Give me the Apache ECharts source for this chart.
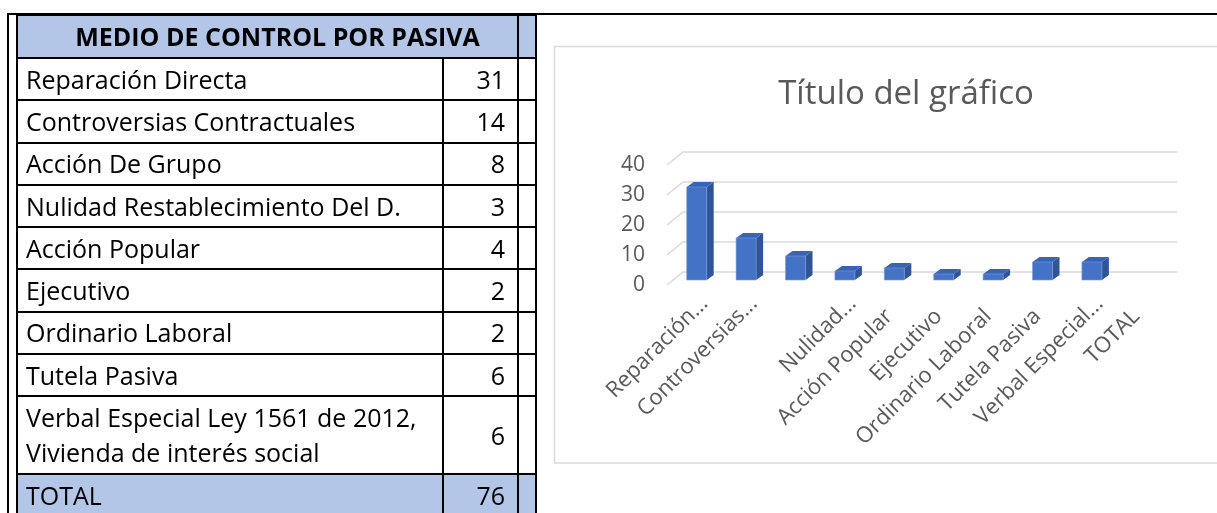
<!DOCTYPE html>
<html>
<head>
<meta charset="utf-8">
<script src="https://cdn.jsdelivr.net/npm/echarts@6/dist/echarts.min.js"></script>
<style>
  body {
    margin: 0;
    width: 1217px;
    height: 513px;
    overflow: hidden;
    background: #fff;
    position: relative;
    font-family: "Open Sans", "Noto Sans", sans-serif;
  }
  #chart {
    position: absolute;
    left: 0;
    top: 0;
    width: 1217px;
    height: 513px;
  }
  .top-line {
    position: absolute;
    left: 7px;
    top: 13px;
    width: 1210px;
    height: 2px;
    background: #000;
  }
  .left-line {
    position: absolute;
    left: 7px;
    top: 13px;
    width: 2px;
    height: 500px;
    background: #000;
  }
  #table {
    position: absolute;
    left: 16px;
    top: 14px;
    border-collapse: collapse;
    table-layout: fixed;
  }
  #table td {
    border: 2.5px solid #000;
    padding: 0 8px;
    font-size: 25px;
    line-height: 35px;
    color: #000;
    white-space: nowrap;
  }
  #table td.num {
    text-align: right;
    padding-right: 12px;
  }
  #table tr.head td,
  #table tr.total td {
    background: #b4c6e7;
  }
  #table tr.head td.title {
    text-align: center;
    font-weight: bold;
    padding-left: 20px;
    padding-right: 0;
  }
</style>
</head>
<body>
<div id="chart"></div>
<div class="top-line"></div>
<div class="left-line"></div>
<table id="table"></table>
<script>
const categories = [
  'Reparación Directa',
  'Controversias Contractuales',
  'Acción De Grupo',
  'Nulidad Restablecimiento Del D.',
  'Acción Popular',
  'Ejecutivo',
  'Ordinario Laboral',
  'Tutela Pasiva',
  'Verbal Especial Ley 1561 de 2012, Vivienda de interés social',
];
const values = [31, 14, 8, 3, 4, 2, 2, 6, 6];
const totalLabel = 'TOTAL';
const totalValue = 76;
const tableTitle = 'MEDIO DE CONTROL POR PASIVA';

// etiquetas del eje tal como aparecen (recortadas por Excel)
const axisLabels = [
  'Reparación...',
  'Controversias...',
  '',
  'Nulidad...',
  'Acción Popular',
  'Ejecutivo',
  'Ordinario Laboral',
  'Tutela Pasiva',
  'Verbal Especial...',
  'TOTAL',
];
const yTicks = [0, 10, 20, 30, 40];

// ---- tabla ----
const rowHeights = [43, 42.3, 42.3, 42.3, 42.3, 42.3, 42.3, 42.3, 42.3, 77.5, 43];
const table = document.getElementById('table');
const colgroup = document.createElement('colgroup');
[426, 75, 18].forEach((w) => {
  const col = document.createElement('col');
  col.style.width = w + 'px';
  colgroup.appendChild(col);
});
table.appendChild(colgroup);

const addRow = (cls, cells, h) => {
  const tr = document.createElement('tr');
  if (cls) tr.className = cls;
  tr.style.height = h + 'px';
  cells.forEach((c) => {
    const td = document.createElement('td');
    if (c.cls) td.className = c.cls;
    if (c.span) td.colSpan = c.span;
    td.innerHTML = c.html;
    tr.appendChild(td);
  });
  table.appendChild(tr);
};

addRow('head', [{ html: tableTitle, cls: 'title', span: 2 }, { html: '' }], rowHeights[0]);
categories.forEach((name, i) => {
  addRow('', [
    { html: name.replace(', ', ',<br>') },
    { html: String(values[i]), cls: 'num' },
    { html: '' },
  ], rowHeights[i + 1]);
});
addRow('total', [
  { html: totalLabel },
  { html: String(totalValue), cls: 'num' },
  { html: '' },
], rowHeights[rowHeights.length - 1]);

// ---- gráfico 3D simulado ----
const depth = [16, -13];
const barWidth = 20;
const barOffset = [5, -5];
const barDepth = [7, -5];

const chart = echarts.init(document.getElementById('chart'));

// Excel deja más largas las etiquetas recortadas con "..."
const xAxisData = categories.concat([totalLabel]).map((name, i) => ({
  value: name,
  textStyle: axisLabels[i].endsWith('...') ? { padding: [0, -18, 0, 0] } : {},
}));

const option = {
  animation: false,
  title: {
    text: 'Título del gráfico',
    left: 901,
    top: 73,
    textAlign: 'center',
    textStyle: {
      color: '#595959',
      fontSize: 33,
      fontWeight: 'normal',
      fontFamily: 'Open Sans',
    },
  },
  graphic: [
    {
      type: 'rect',
      silent: true,
      z: -10,
      shape: { x: 554.5, y: 46.5, width: 700, height: 416.5 },
      style: { fill: '#fff', stroke: '#d9d9d9', lineWidth: 1.5 },
    },
  ],
  grid: {
    left: 667,
    right: 56,
    top: 165,
    bottom: 228,
  },
  xAxis: {
    type: 'category',
    data: xAxisData,
    axisLine: { show: false },
    axisTick: { show: false },
    axisLabel: {
      interval: 0,
      rotate: 45,
      margin: 28,
      color: '#595959',
      fontSize: 22,
      fontFamily: 'Open Sans',
      formatter: (value, index) => axisLabels[index],
    },
  },
  yAxis: {
    type: 'value',
    min: 0,
    max: 40,
    interval: 10,
    splitLine: { show: false },
    axisLine: { show: false },
    axisTick: { show: false },
    axisLabel: {
      margin: 22,
      color: '#595959',
      fontSize: 21,
      fontFamily: 'Open Sans',
      padding: [3, 0, 0, 0],
    },
  },
  series: [
    {
      name: 'grid',
      type: 'custom',
      silent: true,
      z: 1,
      data: yTicks.map((v) => [0, v]),
      renderItem: (params, api) => {
        const c = params.coordSys;
        const y = api.coord([0, api.value(1)])[1];
        return {
          type: 'polyline',
          shape: {
            points: [
              [c.x, y],
              [c.x + depth[0], y + depth[1]],
              [c.x + c.width + depth[0], y + depth[1]],
            ],
          },
          style: { stroke: '#d9d9d9', lineWidth: 1.5, fill: null },
        };
      },
    },
    {
      name: 'Serie 1',
      type: 'custom',
      z: 2,
      data: values.map((v, i) => [i, v]),
      renderItem: (params, api) => {
        const base = api.coord([api.value(0), 0]);
        const top = api.coord([api.value(0), api.value(1)]);
        const x0 = base[0] - barWidth / 2 + barOffset[0];
        const x1 = x0 + barWidth;
        const yb = base[1] + barOffset[1];
        const yt = top[1] + barOffset[1];
        const dx = barDepth[0];
        const dy = barDepth[1];
        return {
          type: 'group',
          children: [
            {
              type: 'polygon',
              shape: { points: [[x1, yb], [x1 + dx, yb + dy], [x1 + dx, yt + dy], [x1, yt]] },
              style: { fill: '#2f5597' },
            },
            {
              type: 'polygon',
              shape: { points: [[x0, yt], [x0 + dx, yt + dy], [x1 + dx, yt + dy], [x1, yt]] },
              style: { fill: '#3864b4' },
            },
            {
              type: 'rect',
              shape: { x: x0, y: yt, width: barWidth, height: yb - yt },
              style: { fill: '#4472c4', stroke: '#7e9bd6', lineWidth: 0.6 },
            },
          ],
        };
      },
    },
  ],
};

chart.setOption(option);
</script>
</body>
</html>
